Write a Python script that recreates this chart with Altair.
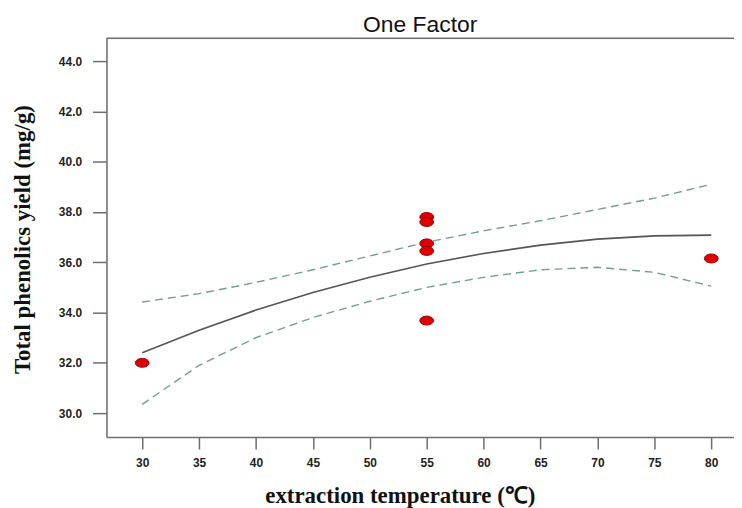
import altair as alt
import pandas as pd

# Observed points (extraction temperature, total phenolics yield)
pt_temp = [30, 55, 55, 55, 55, 55, 80]
pt_yield = [32.0, 37.8, 37.6, 36.75, 36.45, 33.68, 36.15]

# Fitted curve and confidence bands
curve_temp = [30, 35, 40, 45, 50, 55, 60, 65, 70, 75, 80]
fit_vals = [32.40, 33.30, 34.10, 34.80, 35.40, 35.93, 36.35, 36.68, 36.92, 37.05, 37.08]
upper_vals = [34.42, 34.75, 35.20, 35.70, 36.25, 36.80, 37.25, 37.65, 38.10, 38.55, 39.10]
lower_vals = [30.35, 31.90, 33.00, 33.80, 34.45, 35.00, 35.40, 35.70, 35.80, 35.60, 35.05]

x_ticks = [30, 35, 40, 45, 50, 55, 60, 65, 70, 75, 80]
y_ticks = [30, 32, 34, 36, 38, 40, 42, 44]

pts = pd.DataFrame({"temp": pt_temp, "yield": pt_yield})
fit_df = pd.DataFrame({"temp": curve_temp, "val": fit_vals})
band_df = pd.concat([
    pd.DataFrame({"temp": curve_temp, "val": upper_vals, "band": "upper"}),
    pd.DataFrame({"temp": curve_temp, "val": lower_vals, "band": "lower"}),
])

xscale = alt.Scale(domain=[26.86, 82.0], nice=False, zero=False)
yscale = alt.Scale(domain=[29.05, 44.91], nice=False, zero=False)

axis_col = "#6e6e6e"
label_font = "Liberation Sans"

x_axis = alt.Axis(
    values=x_ticks, format="d", grid=False, orient="bottom",
    domainColor=axis_col, domainWidth=1.5, tickColor=axis_col, tickWidth=1.5, tickSize=12,
    labelFont=label_font, labelFontSize=12, labelFontWeight="bold", labelColor="#222",
    labelPadding=9,
    title="extraction temperature (\u2103)", titleFont="Liberation Serif",
    titleFontSize=23, titleFontWeight="bold", titleColor="#111",
    titleX=295, titleY=59, titleBaseline="middle", titleAlign="center",
)
y_axis = alt.Axis(
    values=y_ticks, format=".1f", grid=False,
    domainColor=axis_col, domainWidth=1.5, tickColor=axis_col, tickWidth=1.5, tickSize=14,
    labelFont=label_font, labelFontSize=12, labelFontWeight="bold", labelColor="#222",
    labelPadding=11,
    title="Total phenolics yield (mg/g)", titleFont="Liberation Serif",
    titleFontSize=23, titleFontWeight="bold", titleColor="#111",
    titleX=-84, titleY=202, titleBaseline="middle", titleAnchor="middle",
)

bands = alt.Chart(band_df).mark_line(
    color="#6fa096", strokeWidth=1.4, strokeDash=[8, 5]
).encode(
    x=alt.X("temp:Q", scale=xscale, axis=x_axis),
    y=alt.Y("val:Q", scale=yscale, axis=y_axis),
    detail="band:N",
)

fit = alt.Chart(fit_df).mark_line(color="#555555", strokeWidth=1.6).encode(
    x=alt.X("temp:Q", scale=xscale),
    y=alt.Y("val:Q", scale=yscale),
)

ellipse = "M-1,0A1,0.65,0,1,1,1,0A1,0.65,0,1,1,-1,0Z"
points = alt.Chart(pts).mark_point(
    shape=ellipse, size=190, filled=True, fill="#e00000", stroke="#8b0000",
    strokeWidth=1, opacity=1,
).encode(
    x=alt.X("temp:Q", scale=xscale),
    y=alt.Y("yield:Q", scale=yscale),
)

# top frame line of the plot box
top_line = alt.Chart(pd.DataFrame({"a": [0]})).mark_rule(
    color=axis_col, strokeWidth=1.5
).encode(x=alt.value(0), x2=alt.value(631), y=alt.value(0))

chart = alt.layer(bands, fit, points, top_line).properties(
    width=631,
    height=401,
    title=alt.TitleParams(
        "One Factor", font="Liberation Sans", fontSize=23, fontWeight="normal",
        color="#111", anchor="middle", offset=0,
    ),
    autosize=alt.AutoSizeParams(type="none"),
    padding={"left": 99, "top": 29, "right": 0, "bottom": 70},
).configure_view(stroke=None).configure(background="white")

chart.save("out.html", embed_options={"renderer": "svg", "actions": False})
